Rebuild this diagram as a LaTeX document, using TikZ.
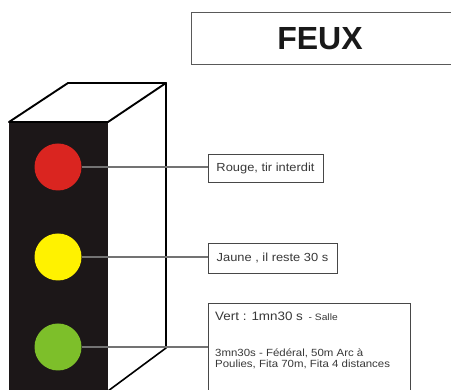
\documentclass[tikz,border=0pt]{standalone}
\usepackage{fontspec}
\setmainfont{Liberation Sans}
\newfontfamily\lblfont[FakeStretch=1.1]{Liberation Sans}
\definecolor{lampred}{HTML}{DA2520}
\definecolor{lampyellow}{HTML}{FFF200}
\definecolor{lampgreen}{HTML}{7DBF2A}
\definecolor{housing}{HTML}{1C1718}
\begin{document}
\begin{tikzpicture}[x=1pt,y=-1pt,
  box/.style={draw=black!72, line width=0.9pt, inner sep=0pt, anchor=north west},
  lbl/.style={inner sep=0pt, text=black!78, font=\lblfont\fontsize{11.7}{14}\selectfont},
  small/.style={inner sep=0pt, text=black!78, font=\lblfont\fontsize{10.4}{12}\selectfont},
  lamp/.style={circle, minimum size=47pt, inner sep=0pt},
  wire/.style={draw=black!55, line width=1.3pt},
  cubeedge/.style={draw=black, line width=1.9pt, line join=round, line cap=round}]
\useasboundingbox (0,0) rectangle (451,390);
\clip (0,0) rectangle (451,390);
% title
\node[box, draw=black!65, line width=1pt, minimum width=280pt, minimum height=52pt] (titlebox) at (191,12) {};
\node[inner sep=0pt, text=black!90, font=\bfseries\fontsize{32}{38}\selectfont] (feux) at (320,38.5) {FEUX};
% housing
\fill[housing] (9,122) -- (108,122) -- (108,395) -- (9,395) -- cycle;
\draw[cubeedge] (9,122) -- (68,83) -- (166,83) -- (108,122) -- cycle;
\draw[cubeedge, line width=1.6pt] (166,83) -- (166,348) -- (108,391);
% lamps
\node[lamp, fill=lampred] (red) at (58,167) {};
\node[lamp, fill=lampyellow] (yellow) at (58,257) {};
\node[lamp, fill=lampgreen] (green) at (58,347) {};
% label boxes
\node[box, minimum width=115pt, minimum height=28pt] (rouge) at (208,154) {};
\node[box, minimum width=129pt, minimum height=30pt] (jaune) at (208,243) {};
\node[box, minimum width=202pt, minimum height=100pt] (vert) at (208,303) {};
% texts
\node[lbl, anchor=base] (rougetxt) at (265.5,172) {Rouge, tir interdit};
\node[lbl, anchor=base] (jaunetxt) at (272.5,262) {Jaune , il reste 30 s};
\node[lbl, anchor=base west, font=\lblfont\fontsize{12.2}{14}\selectfont] (verttxt) at (215,321) {Vert : 1mn30 s \,{\fontsize{9.3}{11}\selectfont - Salle}};
\node[small, anchor=base west] (verta) at (215,357) {3mn30s - Fédéral, 50m Arc à};
\node[small, anchor=base west] (vertb) at (215,368) {Poulies, Fita 70m, Fita 4 distances};
% connectors
\draw[wire] (red.east) -- (rouge.west |- red.east);
\draw[wire] (yellow.east) -- (jaune.west |- yellow.east);
\draw[wire] (green.east) -- (vert.west |- green.east);
\end{tikzpicture}
\end{document}
